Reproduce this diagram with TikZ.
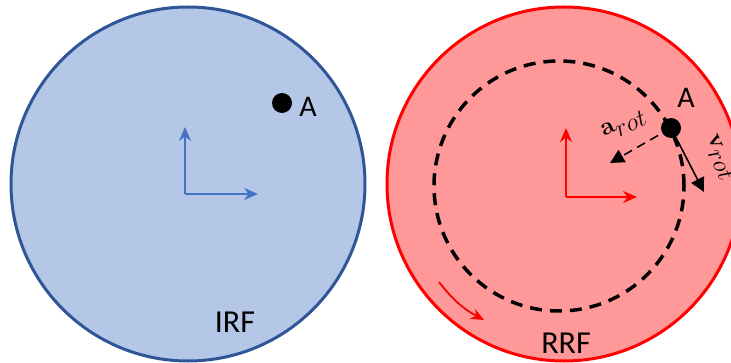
\documentclass[tikz,border=0pt]{standalone}
\usepackage[no-math]{fontspec}
\setmainfont{Carlito}
\usetikzlibrary{arrows.meta}
\definecolor{irffill}{RGB}{180,199,231}
\definecolor{irfline}{RGB}{47,85,151}
\definecolor{axblue}{RGB}{68,114,196}
\definecolor{rrffill}{RGB}{255,153,153}
\definecolor{rrfline}{RGB}{255,0,0}
\tikzset{
  frame/.style={circle, minimum size=354pt, inner sep=0pt, line width=3pt},
  axis/.style={line width=2pt, -{Stealth[length=14pt,width=12pt]}},
  dotA/.style={circle, fill=black, minimum size=20pt, inner sep=0pt},
  lbl/.style={font=\fontsize{30}{36}\selectfont, inner sep=0pt},
  mlbl/.style={font=\fontsize{36}{40}\selectfont, inner sep=0pt},
  vec/.style={line width=1.6pt, -{Triangle[length=14pt,width=14pt]}},
  orbit/.style={line width=3.5pt, dash pattern=on 12pt off 8pt},
}
\begin{document}
\begin{tikzpicture}[x=1pt,y=-1pt]
\clip (0,0) rectangle (731,363);
\fill[white] (0,0) rectangle (731,363);
% IRF
\node[frame, fill=irffill, draw=irfline] (irf) at (188,184) {};
\coordinate (o1) at (185,194);
\coordinate (y1) at (185,127);
\coordinate (x1) at (258,194);
\draw[axis, axblue] (o1) -- (y1);
\draw[axis, axblue] (o1) -- (x1);
\node[dotA] (dA1) at (282,103) {};
\node[lbl] (lA1) at (308,107) {A};
\node[lbl, font=\fontsize{32}{38}\selectfont] (tirf) at (235,322) {IRF};
% RRF
\node[frame, fill=rrffill, draw=rrfline] (rrf) at (564,184) {};
\node[circle, minimum size=250pt, inner sep=0pt, draw, orbit] (orb) at (559,186) {};
\coordinate (o2) at (566,197);
\coordinate (y2) at (566,128);
\coordinate (x2) at (637,197);
\draw[axis, rrfline] (o2) -- (y2);
\draw[axis, rrfline] (o2) -- (x2);
\node[dotA] (dA2) at (671,128) {};
\node[lbl] (lA2) at (686,98) {A};
\coordinate (atip) at (610,163);
\coordinate (vtip) at (704,192);
\draw[vec, dash pattern=on 9pt off 6pt] (dA2.center) -- (atip);
\draw[vec] (dA2.center) -- (vtip);
\node[mlbl, rotate=25] (la) at (624,125) {$\mathbf{a}_{rot}$};
\node[mlbl, rotate=-65, anchor=west] (lv) at (709,136) {$\mathbf{v}_{rot}$};
\coordinate (r1) at (439,282);
\coordinate (r2) at (484,320);
\draw[rrfline, line width=1.8pt, -{Stealth[length=13pt,width=11pt]}] (r1) to[bend right=12] (r2);
\node[lbl, font=\fontsize{32}{38}\selectfont] (trrf) at (566,343) {RRF};
\end{tikzpicture}
\end{document}
